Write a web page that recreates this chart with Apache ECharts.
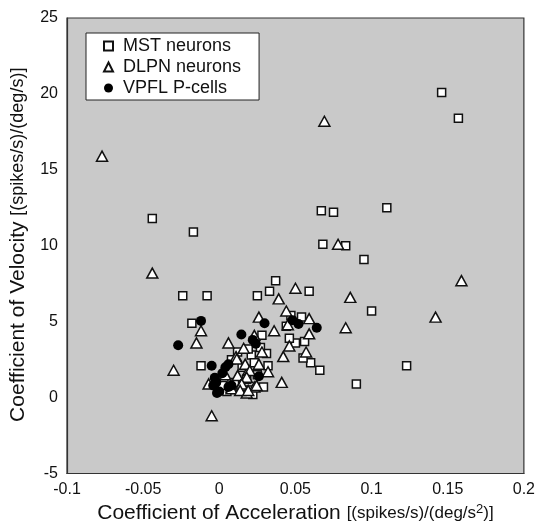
<!DOCTYPE html>
<html>
<head>
<meta charset="utf-8">
<script src="https://cdn.jsdelivr.net/npm/echarts@6/dist/echarts.min.js"></script>
<style>
html,body{margin:0;padding:0;background:#fff;}
#chart{width:538px;height:529px;}
</style>
</head>
<body>
<div id="chart"></div>
<script>
var seriesNames = ['MST neurons', 'DLPN neurons', 'VPFL P-cells'];
var xTickLabels = ['-0.1', '-0.05', '0', '0.05', '0.1', '0.15', '0.2'];
var yTickLabels = ['-5', '0', '5', '10', '15', '20', '25'];

var mstData = [
  [0.146, 20.1], [0.157, 18.4], [-0.044, 11.8], [-0.017, 10.9], [0.067, 12.3], [0.075, 12.2],
  [0.110, 12.5], [0.068, 10.1], [0.083, 10.0], [0.095, 9.1], [0.037, 7.7], [0.033, 7.0],
  [0.059, 7.0], [0.025, 6.7], [-0.024, 6.7], [-0.008, 6.7], [0.100, 5.7], [-0.018, 4.9],
  [0.123, 2.1], [0.090, 0.9], [-0.012, 2.1], [0.066, 1.8], [0.060, 2.3], [0.055, 2.6],
  [0.056, 3.7], [0.050, 3.6], [0.046, 3.9], [0.054, 5.3], [0.047, 5.4], [0.044, 4.7],
  [0.028, 4.1], [0.031, 2.9], [0.032, 2.1], [0.029, 0.7], [0.021, 2.8], [0.019, 3.2],
  [0.005, 0.4], [0.023, 2.3], [0.010, 1.0], [0.015, 2.0], [0.020, 0.5], [0.025, 1.5],
  [0.003, 1.2], [0.012, 3.0], [0.027, 3.3], [0.018, 1.2], [0.008, 2.5], [0.022, 0.2],
  [0.002, 0.8]
];
var dlpnData = [
  [0.069, 18.2], [-0.077, 15.9], [0.078, 10.1], [-0.044, 8.2], [0.050, 7.2], [0.039, 6.5],
  [0.086, 6.6], [0.159, 7.7], [0.142, 5.3], [0.083, 4.6], [0.044, 5.7], [0.059, 5.2],
  [0.045, 4.8], [0.059, 4.2], [0.046, 3.4], [0.057, 3.0], [0.042, 2.7], [0.041, 1.0],
  [0.026, 5.3], [0.036, 4.4], [-0.012, 4.4], [-0.015, 3.6], [0.006, 3.6], [-0.030, 1.8],
  [-0.005, -1.2], [0.016, 3.25], [0.023, 4.1], [0.011, 2.7], [0.026, 2.2], [0.019, 1.8],
  [0.012, 1.45], [0.032, 1.7], [0.008, 0.7], [0.018, 0.3], [0.014, 0.8], [0.023, 0.7],
  [-0.007, 0.9], [0.0115, 2.54], [0.017, 2.2], [0.020, 1.78], [0.018, 1.34], [0.0147, 0.9],
  [0.008, 0.58], [0.0137, 0.47], [0.019, 0.47], [0.0245, 0.8], [0.004, 1.5], [0.028, 3.0]
];
var vpflData = [
  [-0.012, 5.05], [-0.027, 3.45], [0.0145, 4.15], [0.0297, 4.9], [0.048, 5.1], [0.052, 4.85],
  [0.064, 4.6], [0.024, 3.55], [0.006, 2.2], [-0.005, 2.1], [0.026, 1.4], [-0.0015, 0.3],
  [-0.003, 1.3], [-0.004, 0.8], [0.000, 0.4], [0.006, 0.7], [0.004, 2.0], [0.002, 1.6],
  [-0.002, 1.0], [0.008, 0.8], [0.022, 3.8]
];

var chart = echarts.init(document.getElementById('chart'), null, {renderer: 'canvas'});
var FONT = '"Liberation Sans", Arial, Helvetica, sans-serif';
var TXT = '#111';

var option = {
  animation: false,
  backgroundColor: '#ffffff',
  textStyle: {fontFamily: FONT, color: TXT},
  grid: {
    left: 67, top: 18, right: 10, bottom: 52,
    show: true, backgroundColor: '#c9c9c9', borderColor: '#333', borderWidth: 1.2
  },
  legend: {
    orient: 'vertical',
    left: 86, top: 33,
    backgroundColor: '#ffffff',
    borderColor: '#222', borderWidth: 1,
    padding: [4, 18, 3, 17],
    itemWidth: 9, itemHeight: 9, itemGap: 3,
    textStyle: {fontFamily: FONT, fontSize: 18, color: TXT, padding: [0, 0, 0, 5]},
    data: seriesNames
  },
  xAxis: {
    type: 'value', min: -0.1, max: 0.2, interval: 0.05,
    axisLine: {show: true, onZero: false, lineStyle: {color: '#333', width: 1.2}},
    axisTick: {show: false},
    splitLine: {show: false},
    axisLabel: {
      fontFamily: FONT, fontSize: 16, color: TXT, margin: 8,
      formatter: function (v, i) { return xTickLabels[i]; }
    },
    name: '{a|Coefficient of Acceleration }{b|[(spikes/s)/(deg/s}{s|2}{b|)]}',
    nameLocation: 'middle', nameGap: 29,
    nameTextStyle: {
      rich: {
        a: {fontFamily: FONT, fontSize: 21, color: TXT},
        b: {fontFamily: FONT, fontSize: 17, color: TXT},
        s: {fontFamily: FONT, fontSize: 13, color: TXT, verticalAlign: 'top', padding: [0, 0, 9, 0]}
      }
    }
  },
  yAxis: {
    type: 'value', min: -5, max: 25, interval: 5,
    axisLine: {show: true, onZero: false, lineStyle: {color: '#333', width: 1.2}},
    axisTick: {show: false},
    splitLine: {show: false},
    axisLabel: {
      fontFamily: FONT, fontSize: 16, color: TXT, margin: 9,
      formatter: function (v, i) { return yTickLabels[i]; }
    },
    name: '{a|Coefficient of Velocity }{b|[(spikes/s)/(deg/s)]}',
    nameLocation: 'middle', nameGap: 38, nameRotate: 90,
    nameTextStyle: {
      padding: [0, 0, 0, 2],
      rich: {
        a: {fontFamily: FONT, fontSize: 21, color: TXT},
        b: {fontFamily: FONT, fontSize: 18, color: TXT}
      }
    }
  },
  series: [
    {
      name: seriesNames[0], type: 'scatter', symbol: 'rect', symbolSize: 8,
      itemStyle: {color: '#ffffff', borderColor: '#111', borderWidth: 1.5, opacity: 1},
      data: mstData, z: 2
    },
    {
      name: seriesNames[1], type: 'scatter', symbol: 'triangle', symbolSize: [11, 10],
      itemStyle: {color: '#ffffff', borderColor: '#111', borderWidth: 1.5, opacity: 1},
      data: dlpnData, z: 3
    },
    {
      name: seriesNames[2], type: 'scatter', symbol: 'circle', symbolSize: 10,
      itemStyle: {color: '#000000', borderColor: '#000', borderWidth: 0, opacity: 1},
      data: vpflData, z: 4
    }
  ]
};
chart.setOption(option);
</script>
</body>
</html>
